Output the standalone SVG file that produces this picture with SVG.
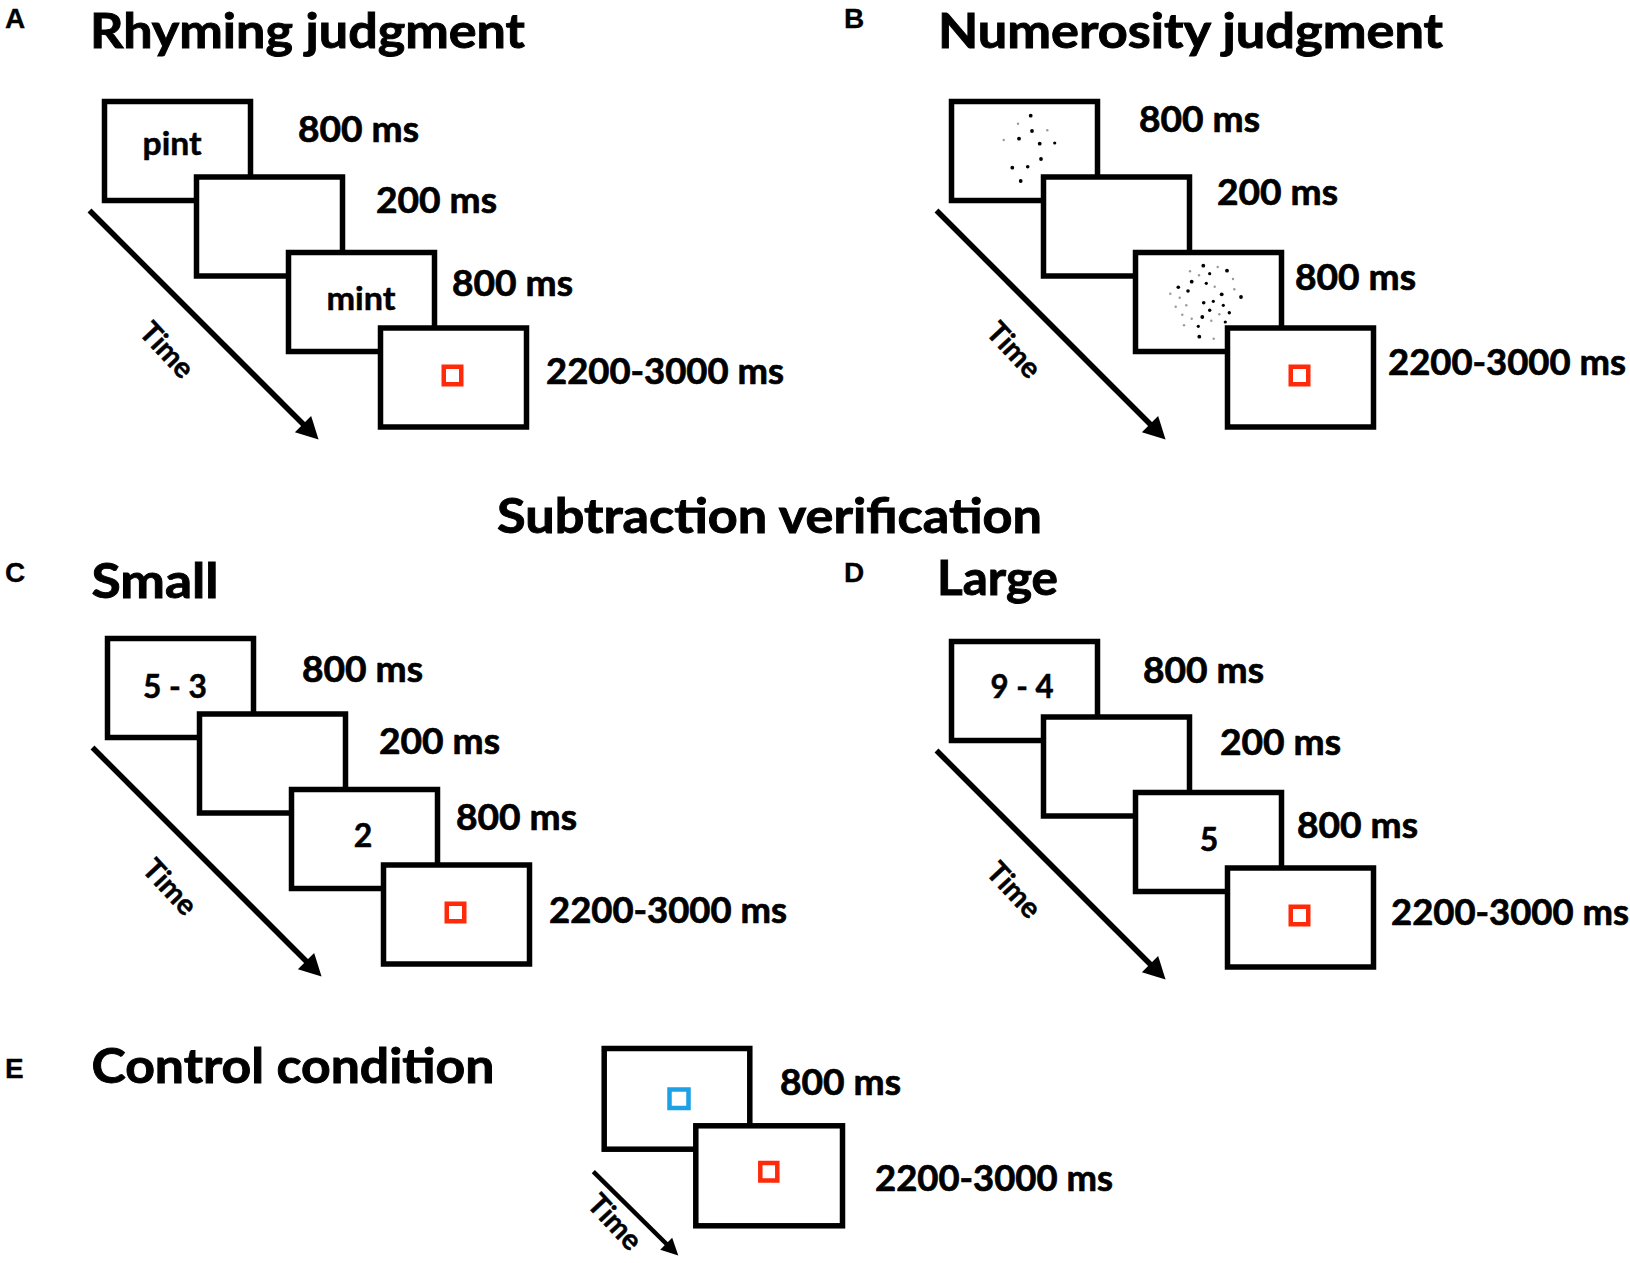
<svg xmlns="http://www.w3.org/2000/svg" width="1630" height="1263" viewBox="0 0 1630 1263">
<defs>
<style>
text{font-family:Lato,"Liberation Sans",Arial,sans-serif;font-weight:700;fill:#000;stroke:#000}
.title{font-size:47px;stroke-width:0.9}
.lab{font-size:36px;stroke-width:0.7}
.inner{font-size:32px;text-anchor:middle;stroke-width:0.5}
.letter{font-family:"Liberation Sans",Arial,sans-serif;font-size:28px;stroke-width:0.3}
.time{font-size:29px;text-anchor:middle;stroke-width:0.5}
.scr{fill:#fff;stroke:#000;stroke-width:5.5}
.fix{fill:none;stroke:#ff2a0a;stroke-width:4.5}
.cue{fill:none;stroke:#1da1e6;stroke-width:4.5}
.arr{stroke:#000;stroke-width:5.5;fill:none;marker-end:url(#ah)}
.arrE{stroke:#000;stroke-width:4.5;fill:none;marker-end:url(#ahE)}
.d{fill:#000}
.g{fill:#999}
</style>
<marker id="ah" markerUnits="userSpaceOnUse" markerWidth="24" markerHeight="24" viewBox="0 0 22 24" refX="12" refY="12" orient="auto"><path d="M0,0.5 L22,12 L0,23.5 z" fill="#000"/></marker>
<marker id="ahE" markerUnits="userSpaceOnUse" markerWidth="18" markerHeight="18" viewBox="0 0 17 18" refX="9" refY="9" orient="auto"><path d="M0,0.5 L17,9 L0,17.5 z" fill="#000"/></marker>
</defs>
<rect width="1630" height="1263" fill="#fff"/>

<g id="headings">
<text class="letter" x="5" y="28">A</text>
<text class="title" x="90" y="48" textLength="435" lengthAdjust="spacingAndGlyphs">Rhyming judgment</text>
<text class="letter" x="844" y="28">B</text>
<text class="title" x="938" y="48" textLength="505" lengthAdjust="spacingAndGlyphs">Numerosity judgment</text>
<text class="title" x="497" y="533" textLength="545" lengthAdjust="spacingAndGlyphs">Subtraction verification</text>
<text class="letter" x="5" y="582">C</text>
<text class="title" x="91.5" y="598" textLength="127" lengthAdjust="spacingAndGlyphs">Small</text>
<text class="letter" x="844" y="582">D</text>
<text class="title" x="937" y="595" textLength="121" lengthAdjust="spacingAndGlyphs">Large</text>
<text class="letter" x="5" y="1078">E</text>
<text class="title" x="91.5" y="1083" textLength="403" lengthAdjust="spacingAndGlyphs">Control condition</text>
</g>

<g id="panel-A">
<g id="A-s1"><rect class="scr" x="104.5" y="101.5" width="146" height="99"/><text class="inner" x="172" y="155" textLength="59" lengthAdjust="spacingAndGlyphs">pint</text><text class="lab" x="298" y="142" textLength="121" lengthAdjust="spacingAndGlyphs">800 ms</text></g>
<g id="A-s2"><rect class="scr" x="196.5" y="177" width="146" height="99"/><text class="lab" x="376" y="213" textLength="121" lengthAdjust="spacingAndGlyphs">200 ms</text></g>
<g id="A-s3"><rect class="scr" x="288.5" y="252.5" width="146" height="99"/><text class="inner" x="361" y="310" textLength="69" lengthAdjust="spacingAndGlyphs">mint</text><text class="lab" x="452" y="296" textLength="121" lengthAdjust="spacingAndGlyphs">800 ms</text></g>
<g id="A-s4"><rect class="scr" x="380.5" y="328" width="146" height="99"/><rect class="fix" x="443.75" y="366.75" width="17.5" height="17.5"/><text class="lab" x="546" y="384" textLength="238" lengthAdjust="spacingAndGlyphs">2200-3000 ms</text></g>
</g>

<g id="panel-B" transform="translate(847,0)">
<g id="B-s1"><rect class="scr" x="104.5" y="101.5" width="146" height="99"/>
<g transform="translate(-847,0)">
<circle class="d" cx="1030.7" cy="115.7" r="1.9"/><circle class="d" cx="1032" cy="131" r="1.9"/><circle class="d" cx="1019" cy="138.7" r="1.9"/><circle class="d" cx="1039.7" cy="143.7" r="1.9"/><circle class="d" cx="1054.7" cy="143" r="1.6"/><circle class="d" cx="1041" cy="159" r="1.9"/><circle class="d" cx="1012.3" cy="167.7" r="1.9"/><circle class="d" cx="1027.7" cy="166.7" r="1.8"/><circle class="d" cx="1020.7" cy="181" r="1.9"/>
<circle class="g" cx="1018" cy="123.7" r="1.2"/><circle class="g" cx="1047.3" cy="130.3" r="1.2"/><circle class="g" cx="1003.7" cy="140" r="1.2"/>
</g>
<text class="lab" x="292" y="132" textLength="121" lengthAdjust="spacingAndGlyphs">800 ms</text></g>
<g id="B-s2"><rect class="scr" x="196.5" y="177" width="146" height="99"/><text class="lab" x="370" y="205" textLength="121" lengthAdjust="spacingAndGlyphs">200 ms</text></g>
<g id="B-s3"><rect class="scr" x="288.5" y="252.5" width="146" height="99"/>
<g transform="translate(-847,0)">
<circle class="d" cx="1203.3" cy="265.7" r="1.9"/><circle class="d" cx="1227" cy="270.7" r="1.9"/><circle class="d" cx="1209.7" cy="273.7" r="1.6"/><circle class="d" cx="1191.7" cy="281.7" r="1.9"/><circle class="d" cx="1206.3" cy="283.3" r="1.6"/><circle class="d" cx="1178.3" cy="287.3" r="1.8"/><circle class="d" cx="1188" cy="291" r="1.8"/><circle class="d" cx="1221.7" cy="294.3" r="1.9"/><circle class="d" cx="1241" cy="297" r="1.9"/><circle class="d" cx="1203.7" cy="302.7" r="1.8"/><circle class="d" cx="1213.3" cy="301.3" r="1.6"/><circle class="d" cx="1223.3" cy="305.3" r="1.6"/><circle class="d" cx="1209.7" cy="310.3" r="1.7"/><circle class="d" cx="1229.3" cy="312.7" r="1.7"/><circle class="d" cx="1202.3" cy="317" r="1.9"/><circle class="d" cx="1225.3" cy="322" r="1.6"/><circle class="d" cx="1198.3" cy="326.3" r="1.6"/><circle class="d" cx="1199.3" cy="336.7" r="1.9"/>
<circle class="g" cx="1217.7" cy="267" r="1.2"/><circle class="g" cx="1190" cy="271.3" r="1.2"/><circle class="g" cx="1199" cy="275.3" r="1.2"/><circle class="g" cx="1233" cy="279" r="1.2"/><circle class="g" cx="1214.7" cy="286.7" r="1.2"/><circle class="g" cx="1234.3" cy="289.3" r="1.2"/><circle class="g" cx="1170.3" cy="293.7" r="1.2"/><circle class="g" cx="1179.7" cy="297.7" r="1.2"/><circle class="g" cx="1175.7" cy="306.7" r="1.2"/><circle class="g" cx="1186.3" cy="305.3" r="1.2"/><circle class="g" cx="1219.3" cy="314.3" r="1.2"/><circle class="g" cx="1182.3" cy="314.7" r="1.2"/><circle class="g" cx="1191.7" cy="318.7" r="1.2"/><circle class="g" cx="1211.3" cy="320.7" r="1.2"/><circle class="g" cx="1184" cy="325.3" r="1.2"/><circle class="g" cx="1213.7" cy="338.7" r="1.2"/>
</g>
<text class="lab" x="448" y="290" textLength="121" lengthAdjust="spacingAndGlyphs">800 ms</text></g>
<g id="B-s4"><rect class="scr" x="380.5" y="328" width="146" height="99"/><rect class="fix" x="443.75" y="366.75" width="17.5" height="17.5"/><text class="lab" x="541" y="375" textLength="238" lengthAdjust="spacingAndGlyphs">2200-3000 ms</text></g>
</g>

<g id="panel-C" transform="translate(3,537)">
<g id="C-s1"><rect class="scr" x="104.5" y="101.5" width="146" height="99"/><text class="inner" x="172" y="161" textLength="64" lengthAdjust="spacingAndGlyphs">5 - 3</text><text class="lab" x="299" y="145" textLength="121" lengthAdjust="spacingAndGlyphs">800 ms</text></g>
<g id="C-s2"><rect class="scr" x="196.5" y="177" width="146" height="99"/><text class="lab" x="376" y="217" textLength="121" lengthAdjust="spacingAndGlyphs">200 ms</text></g>
<g id="C-s3"><rect class="scr" x="288.5" y="252.5" width="146" height="99"/><text class="inner" x="360" y="310">2</text><text class="lab" x="453" y="293" textLength="121" lengthAdjust="spacingAndGlyphs">800 ms</text></g>
<g id="C-s4"><rect class="scr" x="380.5" y="328" width="146" height="99"/><rect class="fix" x="443.75" y="366.75" width="17.5" height="17.5"/><text class="lab" x="546" y="386" textLength="238" lengthAdjust="spacingAndGlyphs">2200-3000 ms</text></g>
</g>

<g id="panel-D" transform="translate(847,540)">
<g id="D-s1"><rect class="scr" x="104.5" y="101.5" width="146" height="99"/><text class="inner" x="175" y="158" textLength="63" lengthAdjust="spacingAndGlyphs">9 - 4</text><text class="lab" x="296" y="143" textLength="121" lengthAdjust="spacingAndGlyphs">800 ms</text></g>
<g id="D-s2"><rect class="scr" x="196.5" y="177" width="146" height="99"/><text class="lab" x="373" y="215" textLength="121" lengthAdjust="spacingAndGlyphs">200 ms</text></g>
<g id="D-s3"><rect class="scr" x="288.5" y="252.5" width="146" height="99"/><text class="inner" x="362" y="311">5</text><text class="lab" x="450" y="298" textLength="121" lengthAdjust="spacingAndGlyphs">800 ms</text></g>
<g id="D-s4"><rect class="scr" x="380.5" y="328" width="146" height="99"/><rect class="fix" x="443.75" y="366.75" width="17.5" height="17.5"/><text class="lab" x="544" y="385" textLength="238" lengthAdjust="spacingAndGlyphs">2200-3000 ms</text></g>
</g>

<g id="panel-E">
<g id="E-s1"><rect class="scr" x="604.2" y="1048.5" width="145.6" height="100.7"/><rect class="cue" x="669.5" y="1089.5" width="19" height="18.5"/><text class="lab" x="780" y="1095" textLength="121" lengthAdjust="spacingAndGlyphs">800 ms</text></g>
<g id="E-s2"><rect class="scr" x="695.8" y="1125.8" width="146.7" height="100"/><rect class="fix" x="760.3" y="1163" width="17" height="17.5"/><text class="lab" x="875" y="1191" textLength="238" lengthAdjust="spacingAndGlyphs">2200-3000 ms</text></g>
</g>

<g id="connectors">
<line class="arr" x1="89.5" y1="210.5" x2="311.5" y2="432.5"/>
<text class="time" transform="translate(167,350) rotate(47)" x="0" y="10">Time</text>
<line class="arr" x1="936.5" y1="210.5" x2="1158.5" y2="432.5"/>
<text class="time" transform="translate(1014,350) rotate(47)" x="0" y="10">Time</text>
<line class="arr" x1="92.5" y1="747.5" x2="314.5" y2="969.5"/>
<text class="time" transform="translate(170,887) rotate(47)" x="0" y="10">Time</text>
<line class="arr" x1="936.5" y1="750.5" x2="1158.5" y2="972.5"/>
<text class="time" transform="translate(1014,890) rotate(47)" x="0" y="10">Time</text>
<line class="arrE" x1="593.3" y1="1171.7" x2="672.6" y2="1250"/>
<text class="time" transform="translate(615,1222) rotate(47)" x="0" y="10">Time</text>
</g>
</svg>
